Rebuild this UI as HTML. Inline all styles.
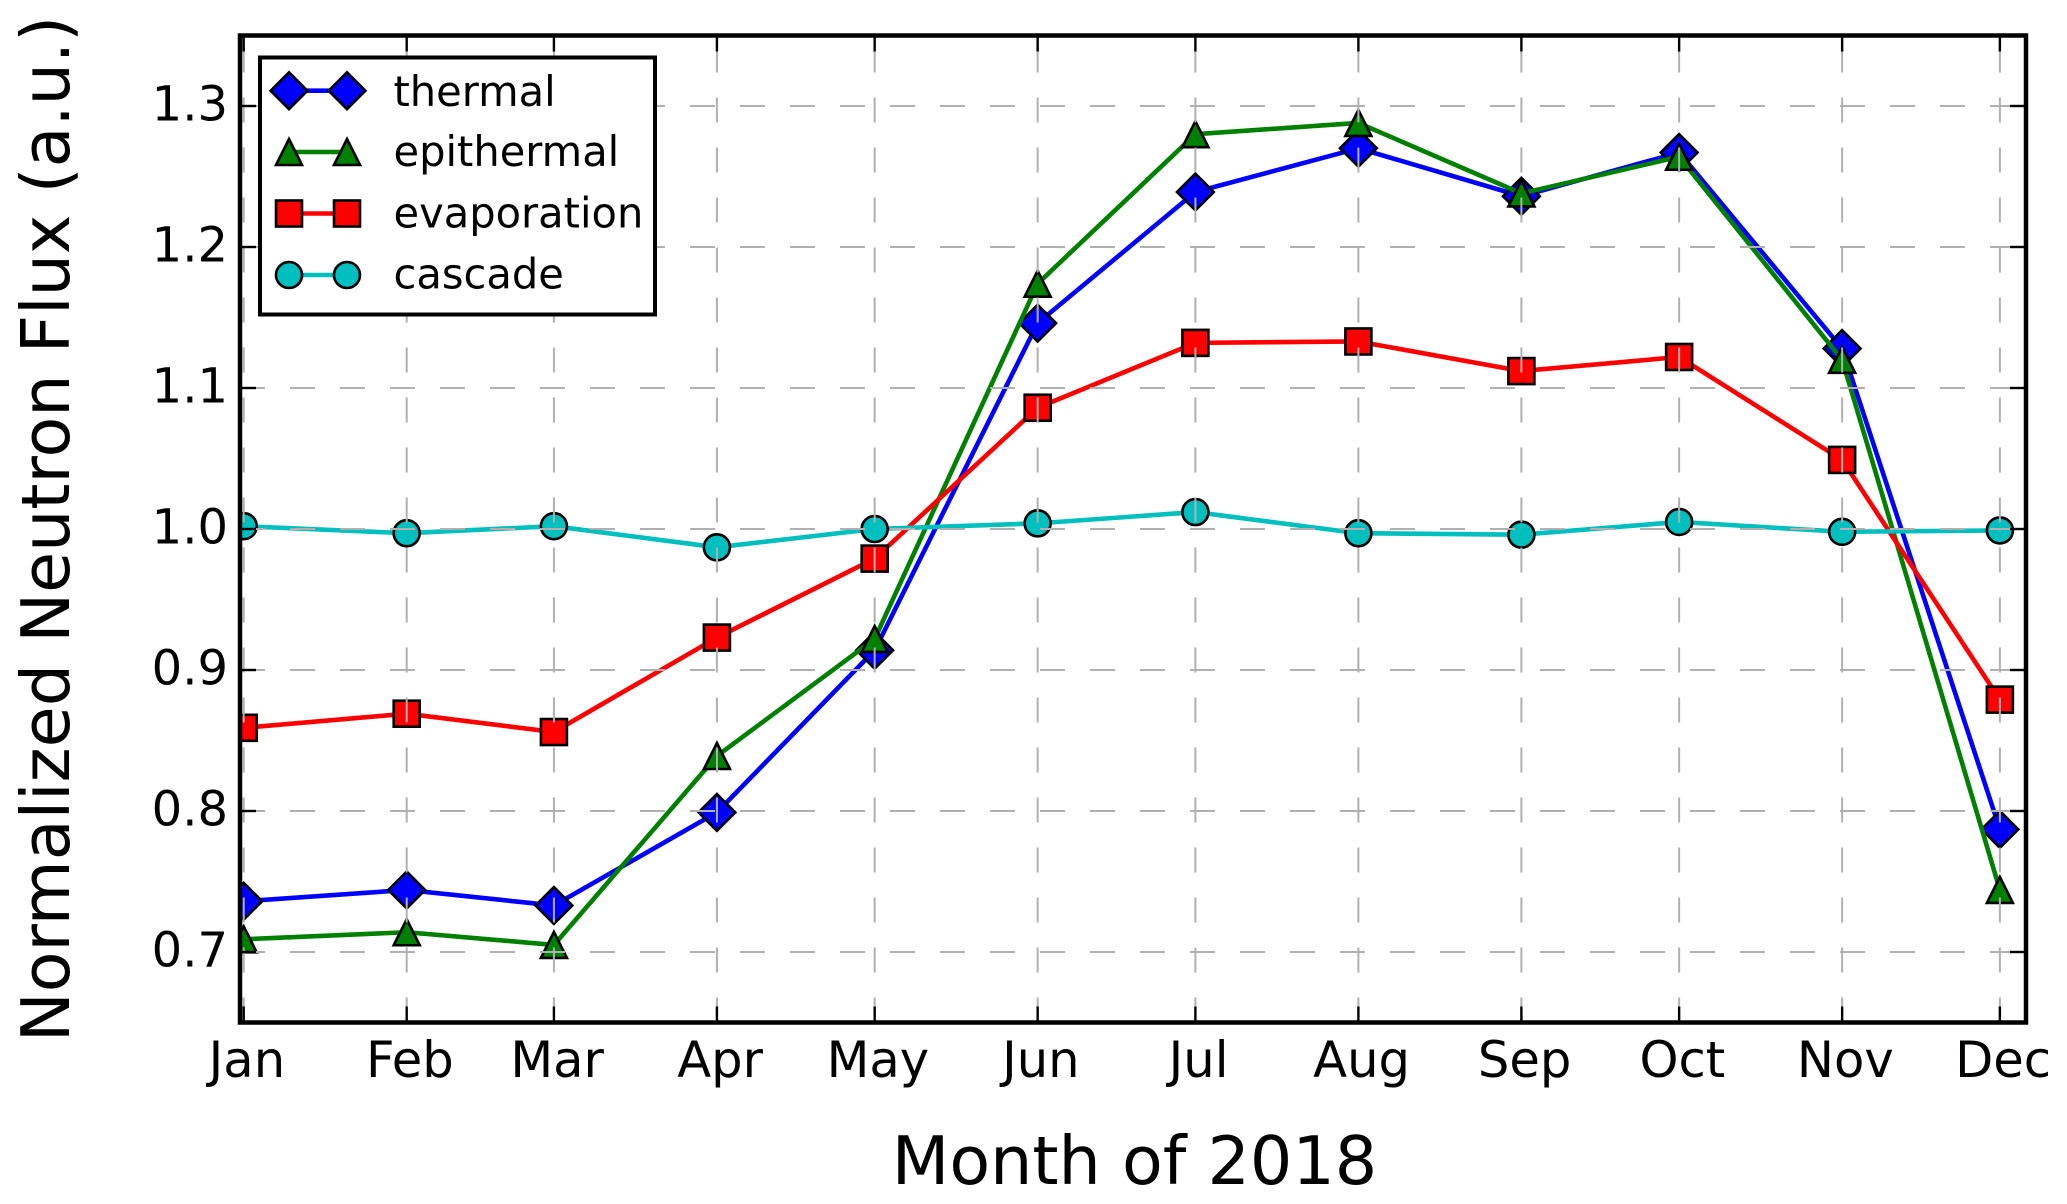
<!DOCTYPE html>
<html lang="en">
<head>
<meta charset="utf-8">
<title>Normalized Neutron Flux by Month of 2018</title>
<style>
  html, body { margin: 0; padding: 0; background: #fff; }
  svg { display: block; }
  text { font-family: "DejaVu Sans", "Liberation Sans", sans-serif; fill: #000; }
</style>
</head>
<body>
<svg id="chart" xmlns="http://www.w3.org/2000/svg" width="2067" height="1204" viewBox="0 0 2067 1204">
  <defs>
    <clipPath id="plot-clip"><rect x="240" y="35.5" width="1786" height="987"></rect></clipPath>
  </defs>
  <rect x="0" y="0" width="2067" height="1204" fill="#fff"></rect>
  <g id="series-layer" clip-path="url(#plot-clip)"></g>
  <g id="grid-layer"></g>
  <g id="tick-layer"></g>
  <rect x="240" y="35.5" width="1786" height="987" fill="none" stroke="#000" stroke-width="4.5"></rect>
  <g id="xlabel-layer"></g>
  <g id="ylabel-layer"></g>
  <text x="1134.5" y="1184" font-size="66.7" text-anchor="middle">Month of 2018</text>
  <text transform="translate(69 529) rotate(-90)" font-size="66.7" text-anchor="middle">Normalized Neutron Flux (a.u.)</text>
  <g id="legend">
    <rect x="260" y="57.5" width="395" height="257" fill="#fff" stroke="#000" stroke-width="4"></rect>
  </g>
</svg>
<script>
const months = ["Jan", "Feb", "Mar", "Apr", "May", "Jun", "Jul", "Aug", "Sep", "Oct", "Nov", "Dec"];
const monthDays = [0, 31, 59, 90, 120, 151, 181, 212, 243, 273, 304, 334];
const yTicks = [0.7, 0.8, 0.9, 1.0, 1.1, 1.2, 1.3];
const yTickLabels = ["0.7", "0.8", "0.9", "1.0", "1.1", "1.2", "1.3"];
const thermal = [0.736, 0.744, 0.733, 0.799, 0.914, 1.146, 1.239, 1.270, 1.236, 1.267, 1.128, 0.787];
const epithermal = [0.709, 0.714, 0.705, 0.839, 0.922, 1.174, 1.280, 1.288, 1.238, 1.264, 1.120, 0.744];
const evaporation = [0.859, 0.869, 0.856, 0.923, 0.979, 1.086, 1.132, 1.133, 1.112, 1.122, 1.049, 0.879];
const cascade = [1.002, 0.997, 1.002, 0.987, 1.000, 1.004, 1.012, 0.997, 0.996, 1.005, 0.998, 0.999];

const NS = "http://www.w3.org/2000/svg";
const plot = { left: 240, right: 2026, top: 35.5, bottom: 1022.5 };
function xScale(day) { return 243.7 + day * 5.258; }
function yScale(v) { return 952 - (v - 0.7) * 1410; }
function make(tag, attrs, parent) {
  const el = document.createElementNS(NS, tag);
  for (const k in attrs) el.setAttribute(k, attrs[k]);
  parent.appendChild(el);
  return el;
}
function markerShape(kind, cx, cy, color, parent) {
  const common = { fill: color, stroke: "#000", "stroke-width": 2.6, "stroke-linejoin": "miter" };
  let el;
  if (kind === "diamond") {
    const r = 18.4;
    el = make("polygon", Object.assign({ points: `${cx},${cy - r} ${cx + r},${cy} ${cx},${cy + r} ${cx - r},${cy}` }, common), parent);
  } else if (kind === "triangle") {
    const r = 13;
    el = make("polygon", Object.assign({ points: `${cx},${cy - r} ${cx + r},${cy + r} ${cx - r},${cy + r}` }, common), parent);
  } else if (kind === "square") {
    const r = 13;
    el = make("rect", Object.assign({ x: cx - r, y: cy - r, width: 2 * r, height: 2 * r }, common), parent);
  } else {
    el = make("circle", Object.assign({ cx: cx, cy: cy, r: 13 }, common), parent);
  }
  return el;
}

const seriesLayer = document.getElementById("series-layer");
const legend = document.getElementById("legend");
const allSeries = [
  { name: "thermal", values: thermal, color: "#0000ff", marker: "diamond", legendY: 90.7, labelY: 106 },
  { name: "epithermal", values: epithermal, color: "#008000", marker: "triangle", legendY: 152, labelY: 166 },
  { name: "evaporation", values: evaporation, color: "#ff0000", marker: "square", legendY: 213.5, labelY: 227.5 },
  { name: "cascade", values: cascade, color: "#00bfbf", marker: "circle", legendY: 275, labelY: 288.5 }
];

allSeries.forEach(function (s) {
  const g = make("g", {}, seriesLayer);
  
  
  const pts = s.values.map(function (v, i) { return xScale(monthDays[i]).toFixed(2) + "," + yScale(v).toFixed(2); }).join(" ");
  const line = make("polyline", { points: pts, fill: "none", stroke: s.color, "stroke-width": 4.6, "stroke-linejoin": "round" }, g);
  
  
  s.values.forEach(function (v, i) {
    const m = markerShape(s.marker, xScale(monthDays[i]), yScale(v), s.color, g);
    
    
  });
});

const gridLayer = document.getElementById("grid-layer");
const tickLayer = document.getElementById("tick-layer");
const xLabels = document.getElementById("xlabel-layer");
const yLabels = document.getElementById("ylabel-layer");

months.forEach(function (name, i) {
  const x = xScale(monthDays[i]);
  const gl = make("line", { x1: x, y1: plot.bottom, x2: x, y2: plot.top, stroke: "#b0b0b0", "stroke-width": 2, "stroke-dasharray": "25 25" }, gridLayer);
  
  
  const t1 = make("line", { x1: x, y1: plot.bottom, x2: x, y2: plot.bottom - 16, stroke: "#000", "stroke-width": 2.4 }, tickLayer);
  
  
  const t2 = make("line", { x1: x, y1: plot.top, x2: x, y2: plot.top + 16, stroke: "#000", "stroke-width": 2.4 }, tickLayer);
  
  
  const lab = make("text", { x: x + 3.2, y: 1077, "font-size": 49.6, "text-anchor": "middle" }, xLabels);
  
  
  lab.textContent = name;
});

yTicks.forEach(function (v, i) {
  const y = yScale(v);
  const gl = make("line", { x1: plot.left, y1: y, x2: plot.right, y2: y, stroke: "#b0b0b0", "stroke-width": 2, "stroke-dasharray": "25 25" }, gridLayer);
  
  
  const t1 = make("line", { x1: plot.left, y1: y, x2: plot.left + 16, y2: y, stroke: "#000", "stroke-width": 2.4 }, tickLayer);
  
  
  const t2 = make("line", { x1: plot.right, y1: y, x2: plot.right - 16, y2: y, stroke: "#000", "stroke-width": 2.4 }, tickLayer);
  
  
  const lab = make("text", { x: 228, y: y + 14.5, "font-size": 48, "text-anchor": "end" }, yLabels);
  
  
  lab.textContent = yTickLabels[i];
});

allSeries.forEach(function (s) {
  const entry = make("g", {}, legend);
  
  
  const ln = make("line", { x1: 289, y1: s.legendY, x2: 347, y2: s.legendY, stroke: s.color, "stroke-width": 4.6 }, entry);
  
  
  const m1 = markerShape(s.marker, 289, s.legendY, s.color, entry);
  
  
  const m2 = markerShape(s.marker, 347, s.legendY, s.color, entry);
  
  
  const t = make("text", { x: 393.5, y: s.labelY, "font-size": 41.6 }, entry);
  
  
  t.textContent = s.name;
});
</script>
</body>
</html>
